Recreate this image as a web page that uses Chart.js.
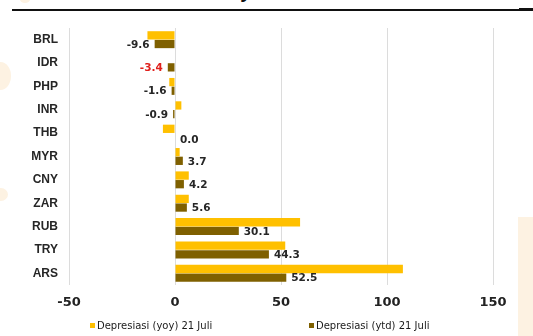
<!DOCTYPE html>
<html>
<head>
<meta charset="utf-8">
<script src="https://cdn.jsdelivr.net/npm/chart.js@4.4.0/dist/chart.umd.min.js"></script>
<style>
  html, body { margin: 0; padding: 0; background: #fff; }
  #wrap { position: relative; width: 533px; height: 336px; overflow: hidden; }
  #chart { position: absolute; left: 0; top: 0; }
  .title { position: absolute; left: 0; width: 538px; top: -18px; text-align: center;
           font: bold 17px "DejaVu Sans", sans-serif; color: #111; }
  .rule { position: absolute; left: 12px; top: 9px; width: 507px; height: 1.5px; background: #111; }
  .rule2 { position: absolute; left: 519px; top: 8px; width: 14px; height: 3px; background: #111; }
  .deco { position: absolute; background: #fdf2e2; }
</style>
</head>
<body>
<div id="wrap">
  <div class="deco" style="left:518px; top:217px; width:15px; height:119px;"></div>
  <div class="deco" style="left:-10px; top:62px; width:21px; height:28px; border-radius:50%;"></div>
  <div class="deco" style="left:-6px; top:188px; width:14px; height:13px; border-radius:50%;"></div>
  <div class="deco" style="left:20px; top:-4px; width:10px; height:7px; border-radius:50%;"></div>
  <div class="title">(21 Juli 2018)</div>
  <div class="rule"></div>
  <div class="rule2"></div>
  <canvas id="chart" width="533" height="336"></canvas>
</div>
<script>
// currencies, top to bottom
const currencies = ['BRL', 'IDR', 'PHP', 'INR', 'THB', 'MYR', 'CNY', 'ZAR', 'RUB', 'TRY', 'ARS'];
// depreciation vs USD, % (yoy and ytd as of 21 July)
const yoyValues = [-13.0, 0.0, -2.7, 3.0, -5.7, 2.2, 6.5, 6.5, 59.0, 52.0, 107.5];
const ytdValues = [-9.6, -3.4, -1.6, -0.9, 0.0, 3.7, 4.2, 5.6, 30.1, 44.3, 52.5];
const seriesNames = ['Depresiasi (yoy) 21 Juli', 'Depresiasi (ytd) 21 Juli'];
const xTicks = [-50, 0, 50, 100, 150];

const YELLOW = '#ffc000';
const BROWN = '#7f6000';

// value labels next to the ytd bars
const valueLabels = {
    id: 'valueLabels',
    afterDatasetsDraw(chart) {
        const ctx = chart.ctx;
        const meta = chart.getDatasetMeta(1);
        ctx.save();
        ctx.font = 'bold 10.5px "DejaVu Sans", sans-serif';
        ctx.textBaseline = 'middle';
        meta.data.forEach((bar, i) => {
            const v = ytdValues[i];
            ctx.fillStyle = currencies[i] === 'IDR' ? '#e0201c' : '#262626';
            if (v < 0) {
                ctx.textAlign = 'right';
                ctx.fillText(v.toFixed(1), bar.x - 5, bar.y + 1);
            } else {
                ctx.textAlign = 'left';
                ctx.fillText(v.toFixed(1), bar.x + 5, bar.y + (v === 0 ? 3 : 1));
            }
        });
        ctx.restore();
    }
};

// legend drawn along the bottom with wide spacing
const bottomLegend = {
    id: 'bottomLegend',
    afterDraw(chart) {
        const ctx = chart.ctx;
        const xs = [90, 309];
        const y = 326;
        ctx.save();
        ctx.font = '10px "DejaVu Sans", sans-serif';
        ctx.textBaseline = 'middle';
        ctx.textAlign = 'left';
        chart.data.datasets.forEach((ds, i) => {
            ctx.fillStyle = ds.backgroundColor;
            ctx.fillRect(xs[i], y - 3, 5, 5);
            ctx.fillStyle = '#1a1a1a';
            ctx.fillText(ds.label, xs[i] + 7, y);
        });
        ctx.restore();
    }
};

new Chart(document.getElementById('chart'), {
    type: 'bar',
    data: {
        labels: currencies,
        datasets: [{
            label: seriesNames[0],
            data: yoyValues,
            backgroundColor: YELLOW,
            categoryPercentage: 0.74,
            barPercentage: 0.96
        }, {
            label: seriesNames[1],
            data: ytdValues,
            backgroundColor: BROWN,
            categoryPercentage: 0.74,
            barPercentage: 0.96
        }]
    },
    options: {
        indexAxis: 'y',
        responsive: false,
        animation: false,
        layout: { padding: { top: 28, right: 40, left: 0, bottom: 0 } },
        scales: {
            x: {
                min: -50,
                max: 150,
                afterBuildTicks: (axis) => { axis.ticks = xTicks.map(v => ({ value: v })); },
                afterFit: (axis) => { axis.height = 51; },
                grid: { color: '#dcdcdc', lineWidth: 1, drawTicks: false },
                border: { display: false },
                ticks: {
                    padding: 10,
                    color: '#222',
                    font: { family: 'DejaVu Sans', size: 13, weight: 'bold' }
                }
            },
            y: {
                afterFit: (axis) => { axis.width = 69; },
                grid: { display: false, drawTicks: false },
                border: { display: false },
                ticks: {
                    padding: 11,
                    color: '#262626',
                    font: { family: 'Liberation Sans', size: 12, weight: 'bold' }
                }
            }
        },
        plugins: {
            legend: { display: false },
            title: { display: false },
            tooltip: { enabled: false }
        }
    },
    plugins: [valueLabels, bottomLegend]
});
</script>
</body>
</html>
